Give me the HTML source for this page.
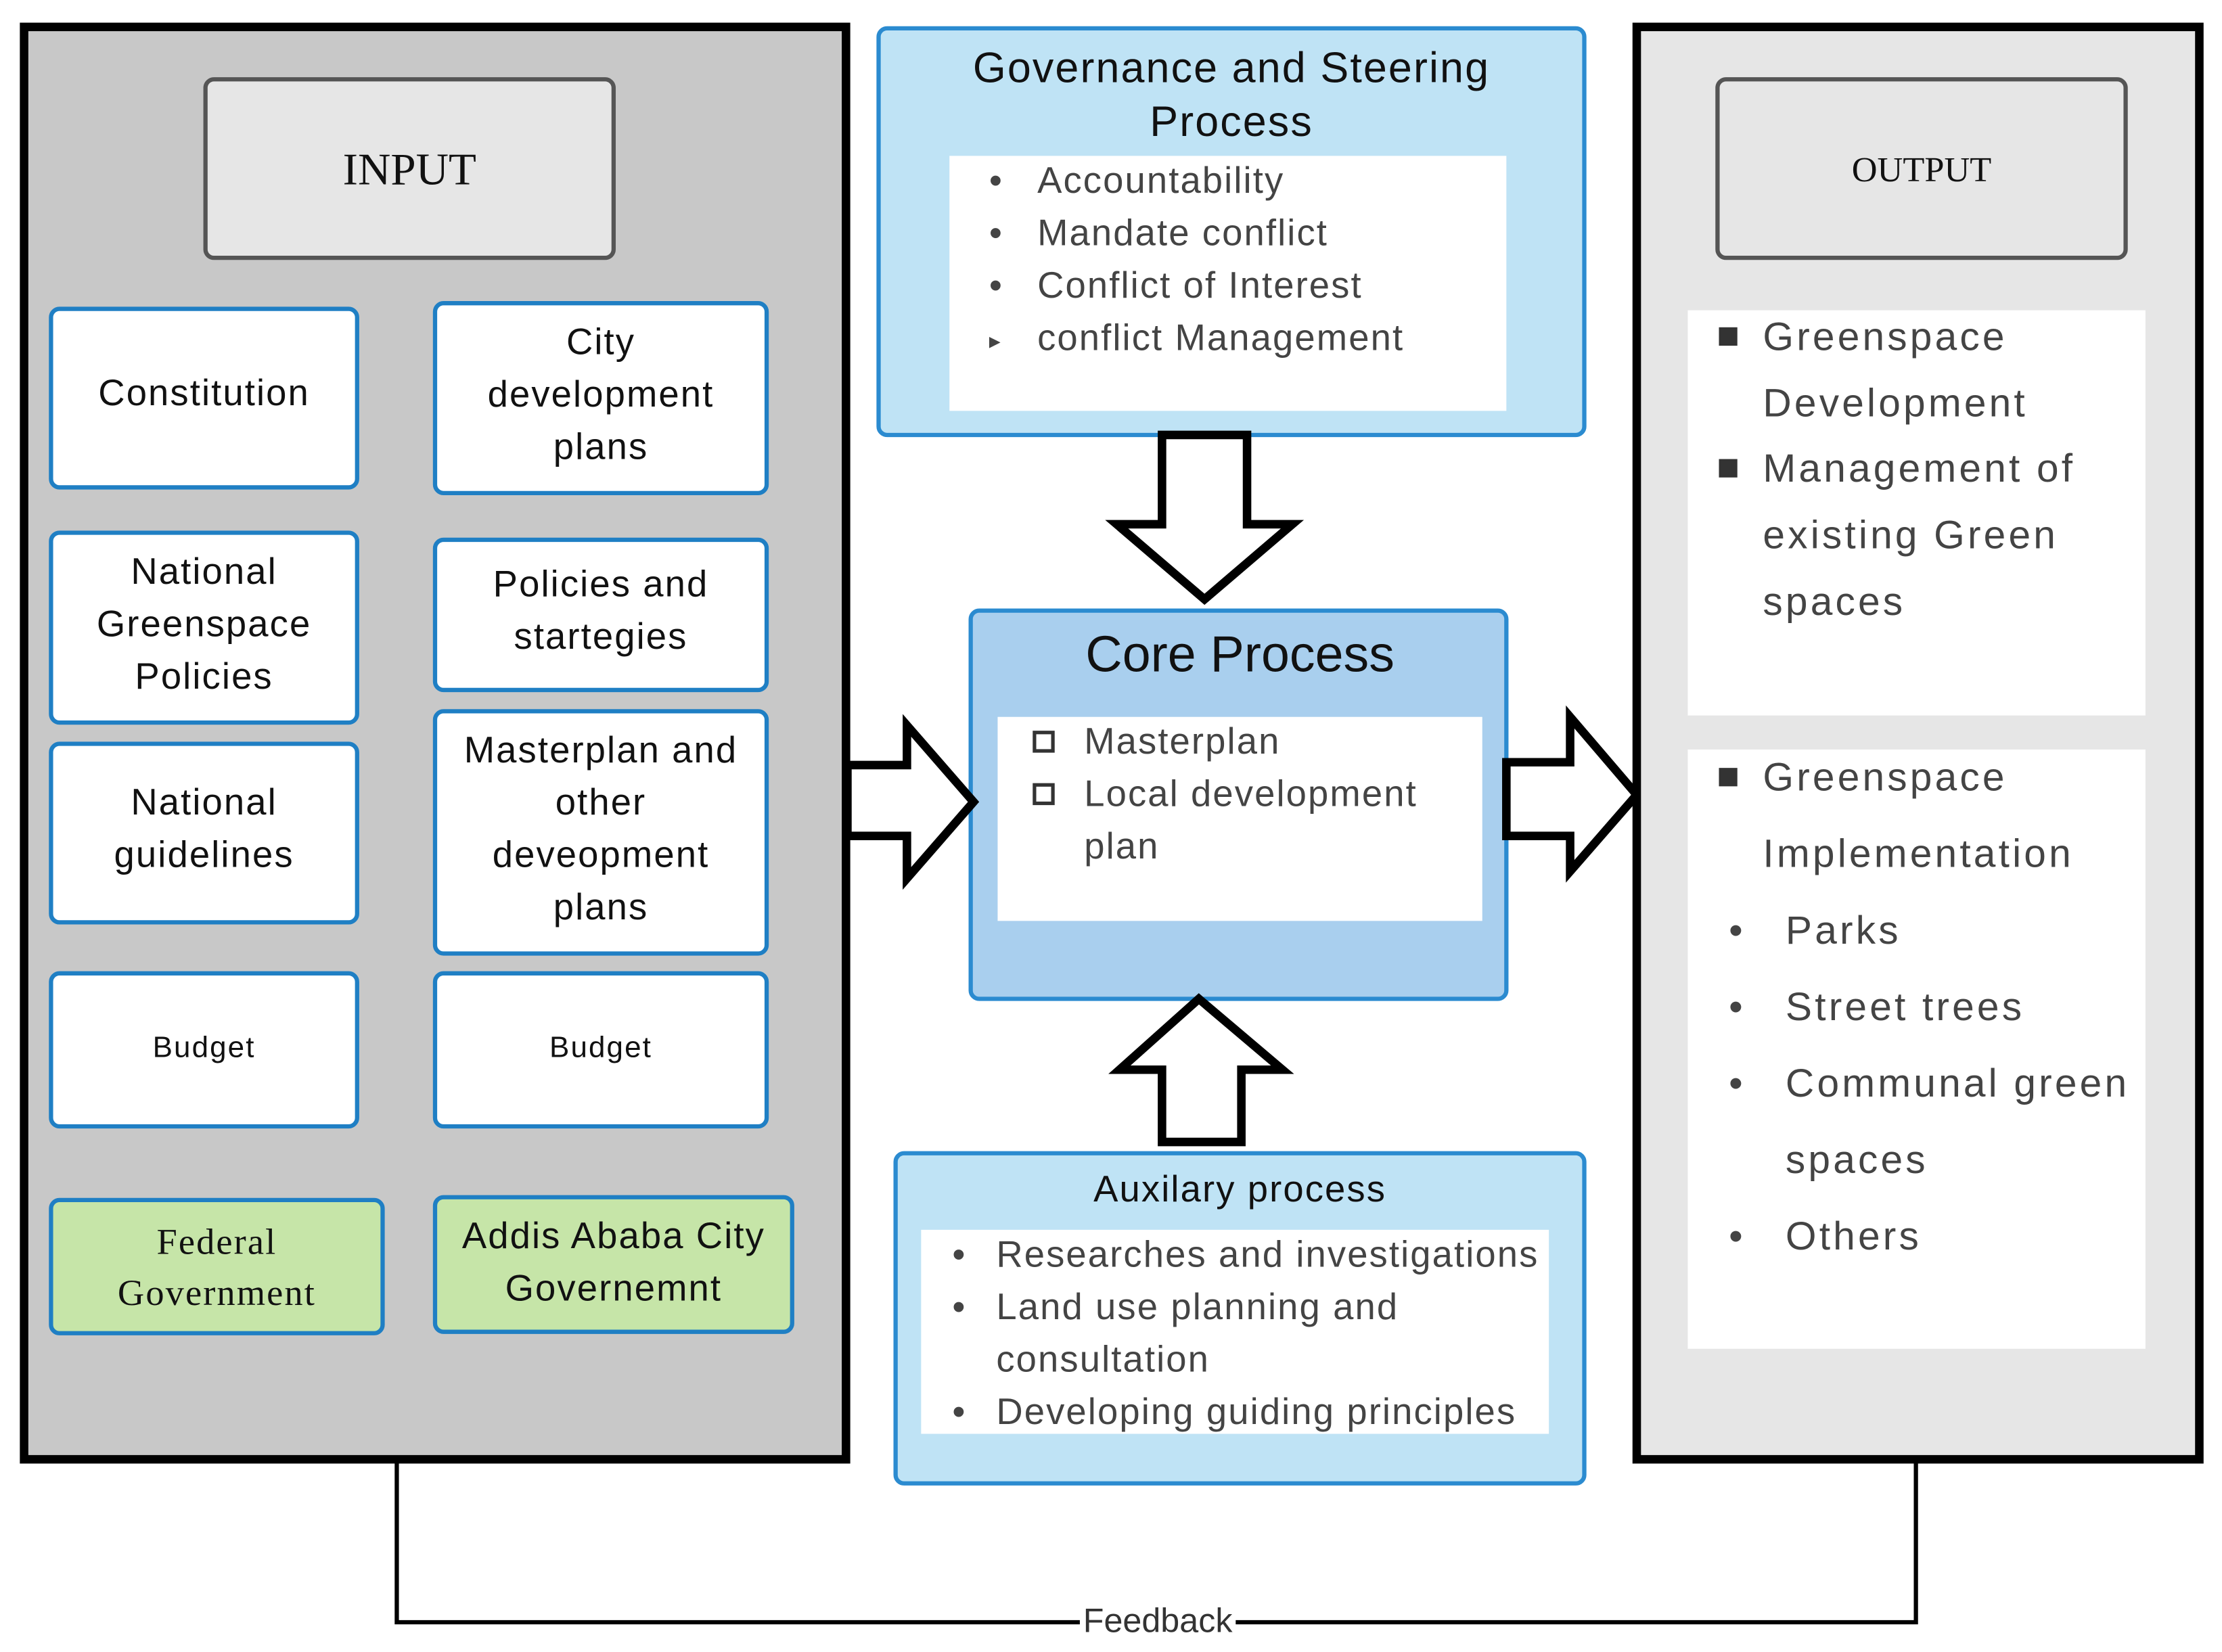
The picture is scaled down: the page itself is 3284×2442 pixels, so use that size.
<!DOCTYPE html>
<html><head><meta charset="utf-8"><style>
html,body{margin:0;padding:0;background:#fff;}
svg{display:block;}
text{font-family:"Liberation Sans",sans-serif;}
.b{fill:#fff;stroke:#1f7fc4;stroke-width:3;}
.t{font-size:26px;fill:#111;text-anchor:middle;letter-spacing:1px;}
.g{font-size:26px;fill:#444;letter-spacing:1px;}
.o{font-size:28px;fill:#444;letter-spacing:2px;}
</style></head><body>
<svg width="3284" height="2442" viewBox="0 0 1568 1166" preserveAspectRatio="none" xmlns="http://www.w3.org/2000/svg">
<rect width="1568" height="1166" fill="#fff"/>
<polyline points="280,1032 280,1145 1352,1145 1352,1032" fill="none" stroke="#000" stroke-width="3"/>
<rect x="762" y="1130" width="110" height="28" fill="#fff"/>
<text x="817" y="1152" font-size="24" fill="#333" text-anchor="middle">Feedback</text>
<rect x="17" y="19" width="580" height="1011" fill="#c8c8c8" stroke="#000" stroke-width="6"/>
<rect x="145" y="56" width="288" height="126" rx="6" fill="#e6e6e6" stroke="#555" stroke-width="3"/>
<text x="289" y="130" font-size="32" text-anchor="middle" style="font-family:'Liberation Serif',serif" fill="#111">INPUT</text>
<rect class="b" x="36" y="218" width="216" height="126" rx="6"/>
<text class="t" x="144" y="286">Constitution</text>
<rect class="b" x="307" y="214" width="234" height="134" rx="6"/>
<text class="t" x="424" y="250">City</text><text class="t" x="424" y="287">development</text><text class="t" x="424" y="324">plans</text>
<rect class="b" x="36" y="376" width="216" height="134" rx="6"/>
<text class="t" x="144" y="412">National</text><text class="t" x="144" y="449">Greenspace</text><text class="t" x="144" y="486">Policies</text>
<rect class="b" x="307" y="381" width="234" height="106" rx="6"/>
<text class="t" x="424" y="421">Policies and</text><text class="t" x="424" y="458">startegies</text>
<rect class="b" x="36" y="525" width="216" height="126" rx="6"/>
<text class="t" x="144" y="575">National</text><text class="t" x="144" y="612">guidelines</text>
<rect class="b" x="307" y="502" width="234" height="171" rx="6"/>
<text class="t" x="424" y="538">Masterplan and</text><text class="t" x="424" y="575">other</text><text class="t" x="424" y="612">deveopment</text><text class="t" x="424" y="649">plans</text>
<rect class="b" x="36" y="687" width="216" height="108" rx="6"/>
<text class="t" x="144" y="746" style="font-size:21px">Budget</text>
<rect class="b" x="307" y="687" width="234" height="108" rx="6"/>
<text class="t" x="424" y="746" style="font-size:21px">Budget</text>
<rect x="36" y="847" width="234" height="94" rx="6" fill="#c6e5a8" stroke="#1f7fc4" stroke-width="3"/>
<text class="t" x="153" y="885" style="font-family:'Liberation Serif',serif">Federal</text>
<text class="t" x="153" y="921" style="font-family:'Liberation Serif',serif">Government</text>
<rect x="307" y="845" width="252" height="95" rx="6" fill="#c6e5a8" stroke="#1f7fc4" stroke-width="3"/>
<text class="t" x="433" y="881">Addis Ababa City</text><text class="t" x="433" y="918">Governemnt</text>
<rect x="620" y="20" width="498" height="287" rx="6" fill="#bfe3f5" stroke="#2b8bd0" stroke-width="3"/>
<text x="869" y="58" font-size="30" text-anchor="middle" fill="#111" letter-spacing="1">Governance and Steering</text>
<text x="869" y="96" font-size="30" text-anchor="middle" fill="#111" letter-spacing="1">Process</text>
<rect x="670" y="110" width="393" height="180" fill="#fff"/>
<text class="g" x="698" y="136">•</text><text class="g" x="732" y="136">Accountability</text>
<text class="g" x="698" y="173">•</text><text class="g" x="732" y="173">Mandate conflict</text>
<text class="g" x="698" y="210">•</text><text class="g" x="732" y="210">Conflict of Interest</text>
<text class="g" x="698" y="246" style="font-size:16px">▸</text><text class="g" x="732" y="247">conflict Management</text>
<polygon points="820,307 880,307 880,370 912,370 850,423 788,370 820,370" fill="#fff" stroke="#000" stroke-width="6"/>
<rect x="685" y="431" width="378" height="274" rx="6" fill="#a9cfee" stroke="#2b8bd0" stroke-width="3"/>
<text x="875" y="474" font-size="36" text-anchor="middle" fill="#111">Core Process</text>
<rect x="704" y="506" width="342" height="144" fill="#fff"/>
<rect x="730" y="517" width="13" height="13" fill="none" stroke="#333" stroke-width="2.5"/>
<rect x="730" y="554" width="13" height="13" fill="none" stroke="#333" stroke-width="2.5"/>
<text class="g" x="765" y="532">Masterplan</text>
<text class="g" x="765" y="569">Local development</text>
<text class="g" x="765" y="606">plan</text>
<polygon points="820,806 876,806 876,755 905,755 846,705 790,755 820,755" fill="#fff" stroke="#000" stroke-width="6"/>
<rect x="632" y="814" width="486" height="233" rx="6" fill="#bfe3f5" stroke="#2b8bd0" stroke-width="3"/>
<text x="875" y="848" font-size="26" text-anchor="middle" fill="#111" letter-spacing="1">Auxilary process</text>
<rect x="650" y="868" width="443" height="144" fill="#fff"/>
<text class="g" x="672" y="894">•</text><text class="g" x="703" y="894">Researches and investigations</text>
<text class="g" x="672" y="931">•</text><text class="g" x="703" y="931">Land use planning and</text>
<text class="g" x="703" y="968">consultation</text>
<text class="g" x="672" y="1005">•</text><text class="g" x="703" y="1005">Developing guiding principles</text>
<polygon points="598,540 640,540 640,512 687,566 640,620 640,590 598,590" fill="#fff" stroke="#000" stroke-width="6"/>
<polygon points="1063,538 1108,538 1108,506 1155,561 1108,615 1108,590 1063,590" fill="#fff" stroke="#000" stroke-width="6"/>
<rect x="1155" y="19" width="397" height="1011" fill="#e6e6e6" stroke="#000" stroke-width="6"/>
<rect x="1212" y="56" width="288" height="126" rx="6" fill="#e6e6e6" stroke="#555" stroke-width="3"/>
<text x="1356" y="128" font-size="25" text-anchor="middle" style="font-family:'Liberation Serif',serif" fill="#111">OUTPUT</text>
<rect x="1191" y="219" width="323" height="286" fill="#fff"/>
<rect x="1213" y="231" width="13" height="13" fill="#333"/>
<text class="o" x="1244" y="247">Greenspace</text>
<text class="o" x="1244" y="294">Development</text>
<rect x="1213" y="324" width="13" height="13" fill="#333"/>
<text class="o" x="1244" y="340">Management of</text>
<text class="o" x="1244" y="387">existing Green</text>
<text class="o" x="1244" y="434">spaces</text>
<rect x="1191" y="529" width="323" height="423" fill="#fff"/>
<rect x="1213" y="542" width="13" height="13" fill="#333"/>
<text class="o" x="1244" y="558">Greenspace</text>
<text class="o" x="1244" y="612">Implementation</text>
<text class="o" x="1220" y="666">•</text><text class="o" x="1260" y="666">Parks</text>
<text class="o" x="1220" y="720">•</text><text class="o" x="1260" y="720">Street trees</text>
<text class="o" x="1220" y="774">•</text><text class="o" x="1260" y="774">Communal green</text>
<text class="o" x="1260" y="828">spaces</text>
<text class="o" x="1220" y="882">•</text><text class="o" x="1260" y="882">Others</text>
</svg>
</body></html>
